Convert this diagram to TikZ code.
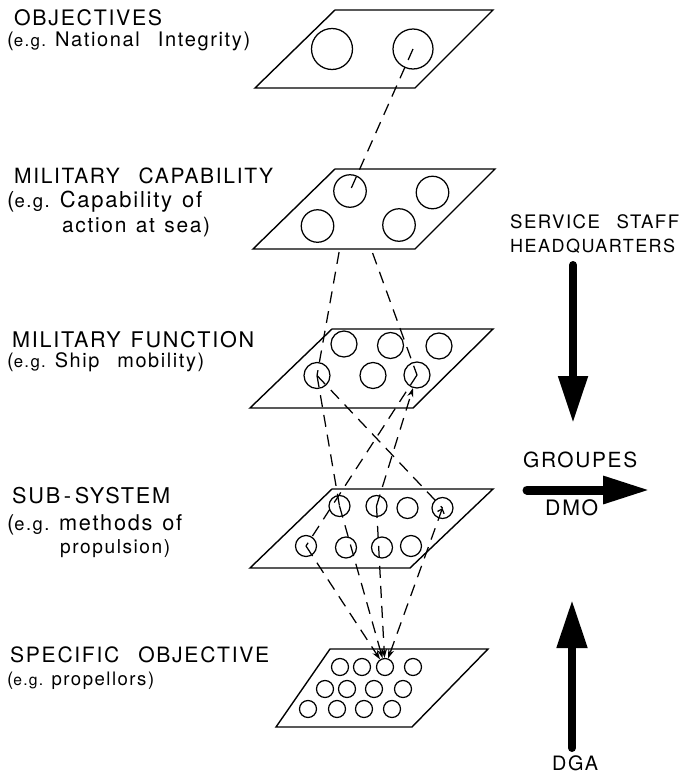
\documentclass[tikz,border=0pt]{standalone}
\usepackage{graphicx}
\usepackage{fontspec}
\setmainfont{TeX Gyre Heros}[LetterSpace=8]
\usetikzlibrary{arrows.meta}

% small "e.g." used inside the bracketed examples
\newcommand{\egsmall}{{\fontsize{16}{16}\selectfont e.g.}}
\newcommand{\wsp}{\hspace{0.45em}}
% set a label to a given printed width
\newcommand{\fitw}[2]{\resizebox{#1}{!}{#2}}

\tikzset{
  plane/.style={draw, line width=1.4pt, line join=miter},
  spot/.style={draw, circle, line width=1.25pt, inner sep=0pt, minimum size=#1},
  link/.style={line width=1.25pt, dash pattern=on 12pt off 8pt},
  tipdown/.style={-{Stealth[length=9pt,width=6pt]}},
  heading/.style={anchor=base west, inner sep=0pt, font=\fontsize{20}{24}\selectfont},
  example/.style={anchor=base west, inner sep=0pt, font=\fontsize{19}{22}\selectfont},
  side/.style={anchor=base west, inner sep=0pt, font=\fontsize{18}{22}\selectfont},
  bigarrow/.style={line cap=round},
}

\begin{document}
\begin{tikzpicture}[x=1pt, y=-1pt]
\useasboundingbox (0,0) rectangle (681,774);

% ---- level planes ----
\draw[plane] (335,10) -- (493,10) -- (415,88) -- (255,88) -- cycle;
\draw[plane] (335,169) -- (495,169) -- (415,249) -- (253,249) -- cycle;
\draw[plane] (332,329) -- (493,329) -- (413,408) -- (250,408) -- cycle;
\draw[plane] (332,489) -- (493,489) -- (410,568) -- (250,568) -- cycle;
\draw[plane] (330,649) -- (488,649) -- (412,727) -- (276,727) -- cycle;

% ---- elements on each level ----
\node[spot=41pt] (o1) at (332,49) {};
\node[spot=40pt] (o2) at (413,49) {};

\node[spot=32.5pt] (c1) at (350,191) {};
\node[spot=32.5pt] (c2) at (432.5,192.5) {};
\node[spot=32.5pt] (c3) at (317.5,226) {};
\node[spot=32.5pt] (c4) at (399,225) {};

\node[spot=26pt] (f1) at (344,344) {};
\node[spot=26pt] (f2) at (390.5,345.5) {};
\node[spot=26pt] (f3) at (439,346) {};
\node[spot=26pt] (f4) at (317,375.5) {};
\node[spot=26pt] (f5) at (373,375.5) {};
\node[spot=26pt] (f6) at (417,375) {};

\node[spot=21pt] (s1) at (339.5,506) {};
\node[spot=21pt] (s2) at (376.5,506) {};
\node[spot=21pt] (s3) at (407.5,508) {};
\node[spot=21pt] (s4) at (442.5,508) {};
\node[spot=21pt] (s5) at (306,546) {};
\node[spot=21pt] (s6) at (346,547.5) {};
\node[spot=21pt] (s7) at (382,547.5) {};
\node[spot=21pt] (s8) at (411,546) {};

\node[spot=17pt] (p1) at (340,667) {};
\node[spot=17pt] (p2) at (362,667) {};
\node[spot=17pt] (p3) at (385,667) {};
\node[spot=17pt] (p4) at (413,667) {};
\node[spot=17pt] (p5) at (325,689) {};
\node[spot=17pt] (p6) at (347,689) {};
\node[spot=17pt] (p7) at (374,689) {};
\node[spot=17pt] (p8) at (403,689) {};
\node[spot=17pt] (p9) at (308,709) {};
\node[spot=17pt] (p10) at (337,709) {};
\node[spot=17pt] (p11) at (364,709) {};
\node[spot=17pt] (p12) at (392,709) {};

% ---- dashed links between levels ----
\draw[link] (o2.center) -- (c1.center);
% these two run hidden under their own plane and show from its lower edge
\draw[link, shorten <=62pt] (c1.center) -- (f4.center);
\draw[link, shorten <=66pt] (c1.center) -- (f6.center);
\draw[link] (f4.center) -- (s1.center);
\draw[link] (f4.center) -- (s4.center);
\draw[link] (f6.center) -- (s5.center);
\draw[link, tipdown] (s2.center) -- (f6);
\draw[link, tipdown] (s1.center) -- (p3);
\draw[link, tipdown] (s2.center) -- (p3);
\draw[link, tipdown] (s5.center) -- (p3);
\draw[link, {Straight Barb[length=4pt,width=7pt]}-{Stealth[length=9pt,width=6pt]}] (s4.center) -- (p3);

% ---- level labels ----
\node[heading] (obj) at (14,25) {\fitw{148pt}{OBJECTIVES}};
\node[example] (objeg) at (7,46) {\fitw{243pt}{(\egsmall\wsp National\wsp\wsp Integrity)}};
\node[heading] (cap) at (14,183) {\fitw{259pt}{MILITARY\wsp\wsp CAPABILITY}};
\node[example] (capeg) at (7,207.5) {\fitw{195pt}{(\egsmall\wsp Capability\wsp of}};
\node[example] (capeg2) at (62,232) {\fitw{148pt}{action\wsp at\wsp sea)}};
\node[heading] (fun) at (12,347) {\fitw{242pt}{MILITARY\wsp FUNCTION}};
\node[example] (funeg) at (7,367) {\fitw{197pt}{(\egsmall\wsp Ship\wsp\wsp mobility)}};
\node[heading] (sub) at (12,503) {\fitw{158pt}{SUB\,-\,SYSTEM}};
\node[example] (subeg) at (7,530) {\fitw{175pt}{(\egsmall\wsp methods\wsp of}};
\node[example] (subeg2) at (60,553) {\fitw{110pt}{propulsion)}};
\node[heading] (spec) at (10,662) {\fitw{259pt}{SPECIFIC\wsp\wsp OBJECTIVE}};
\node[example] (speceg) at (7,685) {\fitw{147pt}{(\egsmall\wsp propellors)}};

% ---- organisations and their flows ----
\node[side] (svc) at (510,228) {\fitw{169pt}{SERVICE\wsp\wsp STAFF}};
\node[side] (hq) at (510,252) {\fitw{165pt}{HEADQUARTERS}};
\node[side] (grp) at (523,467) {\fitw{114pt}{GROUPES}};
\node[side] (dmo) at (545,515) {\fitw{53pt}{DMO}};
\node[side] (dga) at (552,770) {\fitw{46pt}{DGA}};

\coordinate (hqfoot) at (573,265);
\coordinate (hqtip) at (573,423);
\coordinate (dmotail) at (527,490);
\coordinate (dmotip) at (650,490);
\coordinate (dgafoot) at (572,748);
\coordinate (dgatip) at (572,600);

\draw[bigarrow, line width=8pt, -{Triangle[length=47pt,width=28pt]}] (hqfoot) -- (hqtip);
\draw[bigarrow, line width=9pt, -{Triangle[length=47pt,width=26pt]}] (dmotail) -- (dmotip);
\draw[bigarrow, line width=8pt, -{Triangle[length=48pt,width=29pt]}] (dgafoot) -- (dgatip);
\end{tikzpicture}
\end{document}
